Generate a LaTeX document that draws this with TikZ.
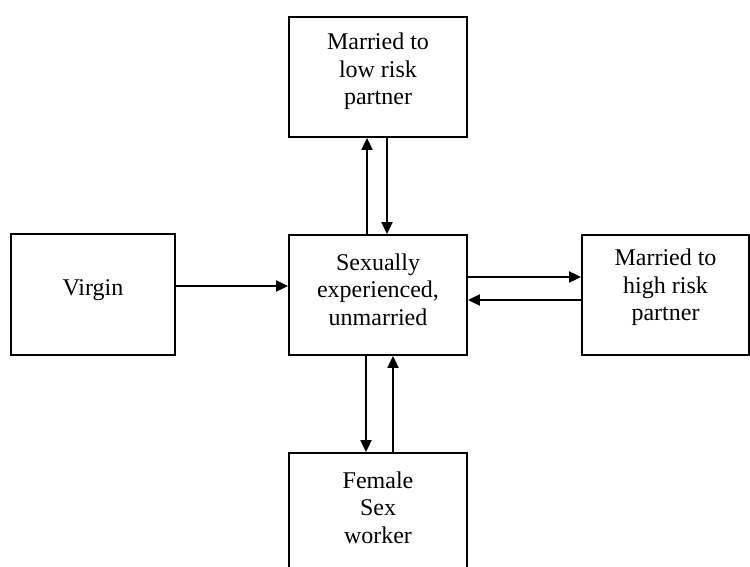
\documentclass[tikz,border=0pt]{standalone}
\usepackage{fontspec}
\setmainfont{Liberation Serif}
\usetikzlibrary{arrows.meta}
\begin{document}
\begin{tikzpicture}[x=1pt,y=1pt,
  boxnode/.style={draw, line width=1.8pt, inner sep=0pt},
  lbl/.style={align=center, font=\fontsize{24}{27.5}\selectfont, inner sep=0pt},
  arr/.style={line width=1.8pt, -{Triangle[length=12pt,width=11pt]}}]
\useasboundingbox (0,0) rectangle (750,-567);
\begin{scope}
\clip (0,0) rectangle (750,-567);
\node[boxnode, minimum width=178pt, minimum height=120pt] (top) at (378,-77) {};
\node[boxnode, minimum width=164pt, minimum height=121pt] (vir) at (93,-294.5) {};
\node[boxnode, minimum width=178pt, minimum height=120pt] (cen) at (378,-295) {};
\node[boxnode, minimum width=167pt, minimum height=120pt] (rig) at (665.5,-295) {};
\node[boxnode, minimum width=178pt, minimum height=120pt] (bot) at (378,-513) {};
\end{scope}
\node[lbl] (ttop) at ([yshift=5.5pt]top.center) {Married to\\low risk\\partner};
\node[lbl] (tvir) at ([yshift=4pt]vir.center) {Virgin};
\node[lbl] (tcen) at ([yshift=5.5pt]cen.center) {Sexually\\experienced,\\unmarried};
\node[lbl] (trig) at ([yshift=7.5pt]rig.center) {Married to\\high risk\\partner};
\node[lbl] (tbot) at ([yshift=5.5pt]bot.center) {Female\\Sex\\worker};
% arrows
\draw[arr] ([xshift=-11pt]cen.north) -- ([xshift=-11pt]top.south);
\draw[arr] ([xshift=9pt]top.south) -- ([xshift=9pt]cen.north);
\draw[arr] ([yshift=8.5pt]vir.east) -- ([yshift=8.5pt]vir.east -| cen.west);
\draw[arr] ([yshift=18pt]cen.east) -- ([yshift=18pt]cen.east -| rig.west);
\draw[arr] ([yshift=-5pt]rig.west) -- ([yshift=-5pt]rig.west -| cen.east);
\draw[arr] ([xshift=-12pt]cen.south) -- ([xshift=-12pt]bot.north);
\draw[arr] ([xshift=15pt]bot.north) -- ([xshift=15pt]cen.south);
\end{tikzpicture}
\end{document}
